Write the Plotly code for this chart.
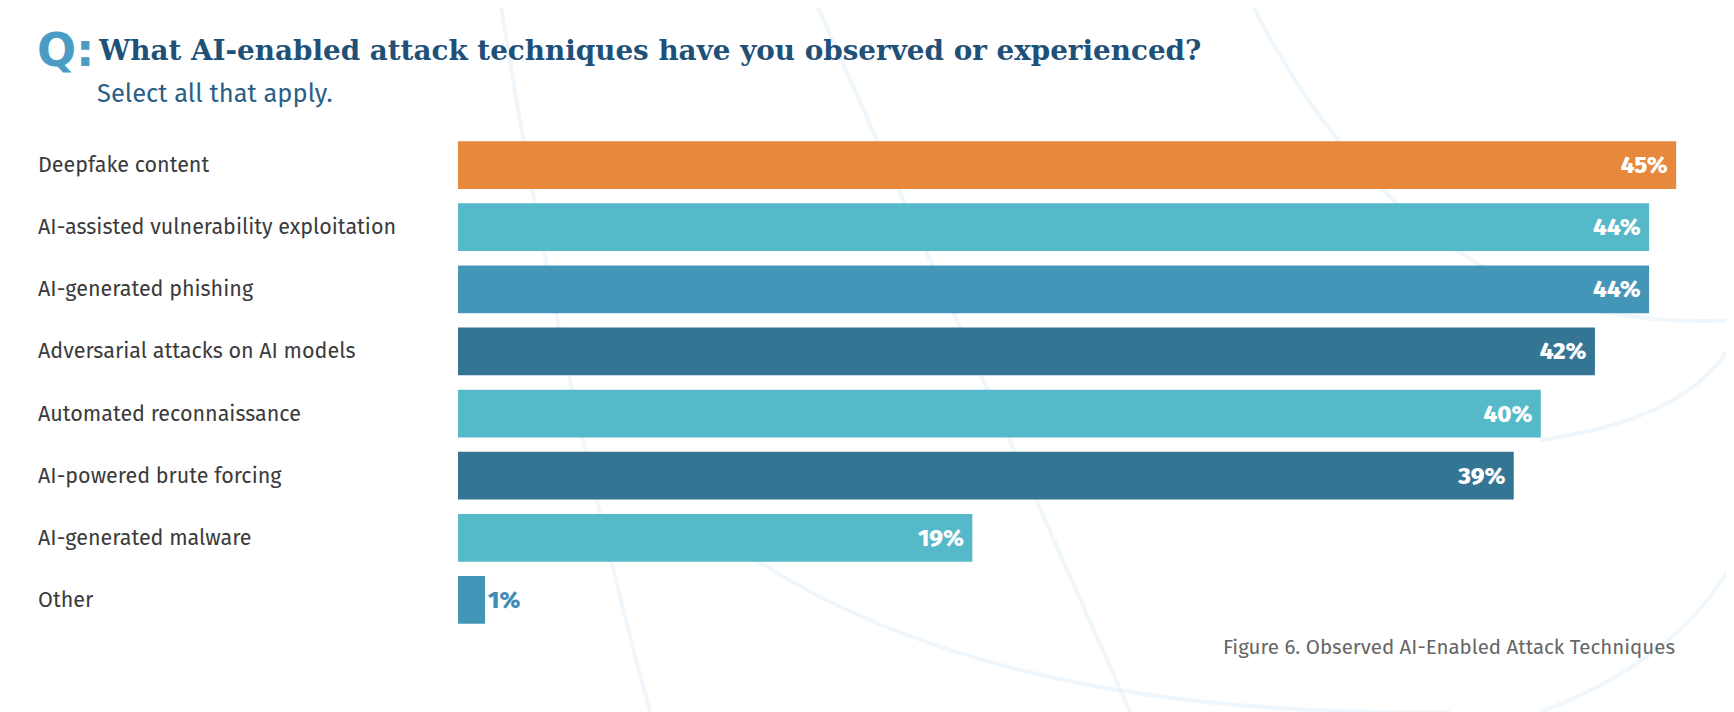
import plotly.graph_objects as go

categories = [
    "Deepfake content",
    "AI-assisted vulnerability exploitation",
    "AI-generated phishing",
    "Adversarial attacks on AI models",
    "Automated reconnaissance",
    "AI-powered brute forcing",
    "AI-generated malware",
    "Other",
]
values = [45, 44, 44, 42, 40, 39, 19, 1]
bar_colors = ["#E6893C", "#55B9C9", "#4496B8", "#357594",
              "#55B9C9", "#357594", "#55B9C9", "#4496B8"]

title_text = "What AI-enabled attack techniques have you observed or experienced?"
subtitle_text = "Select all that apply."
caption_text = "Figure 6. Observed AI-Enabled Attack Techniques"

# page body adds an 8px offset, so the figure is drawn 8px up/left of target
OFF = 8
W, H = 1734, 712
L, T = 458 - OFF, 134 - OFF
plot_w, plot_h = 1245, 497
R = W - L - plot_w
B = H - T - plot_h


def px_x(x):
    return (x - OFF - L) / plot_w


def px_y(y):
    return (T + plot_h - (y - OFF)) / plot_h


def arc_path(p0, c, p1):
    # quadratic curve given in screen pixels, converted to paper units
    pts = [(px_x(x), px_y(y)) for x, y in (p0, c, p1)]
    return "M {:.4f},{:.4f} Q {:.4f},{:.4f} {:.4f},{:.4f}".format(
        *pts[0], *pts[1], *pts[2])


sans = "Fira Sans, Roboto, sans-serif"

text_pos = ["inside" if v >= 5 else "outside" for v in values]
text_col = ["white" if v >= 5 else "#3F8DB6" for v in values]
labels = [f"{v}%\u00a0" if v >= 5 else f"{v}%" for v in values]

fig = go.Figure()
fig.add_trace(go.Bar(
    x=values,
    y=categories,
    orientation="h",
    marker=dict(color=bar_colors, line=dict(width=0)),
    width=0.77,
    text=labels,
    textposition=text_pos,
    insidetextanchor="end",
    textfont=dict(family=sans, size=24, color=text_col, weight=800),
    cliponaxis=False,
    hoverinfo="skip",
))

annotations = []
for cat in categories:
    annotations.append(dict(
        x=px_x(36), xref="paper", y=cat, yref="y",
        text=cat, showarrow=False, xanchor="left", yanchor="middle",
        font=dict(family=sans, size=21.5, color="#3B3B3B"),
    ))

annotations += [
    dict(x=px_x(35), y=px_y(50), xref="paper", yref="paper", text="<b>Q:</b>",
         showarrow=False, xanchor="left", yanchor="middle",
         font=dict(family="DejaVu Sans, sans-serif", size=46, color="#4A9CC5")),
    dict(x=px_x(96), y=px_y(51), xref="paper", yref="paper", text=f"<b>{title_text}</b>",
         showarrow=False, xanchor="left", yanchor="middle",
         font=dict(family="Roboto Slab, DejaVu Serif, serif", size=27.8, color="#1F5178")),
    dict(x=px_x(95), y=px_y(93), xref="paper", yref="paper", text=subtitle_text,
         showarrow=False, xanchor="left", yanchor="middle",
         font=dict(family=sans, size=25.5, color="#2A5F87")),
    dict(x=px_x(1677), y=px_y(647), xref="paper", yref="paper", text=caption_text,
         showarrow=False, xanchor="right", yanchor="middle",
         font=dict(family=sans, size=20.5, color="#666666")),
]

# faint decorative arcs in the background
arc = dict(color="rgba(218,235,247,0.4)", width=4)
shapes = [
    dict(type="path", xref="paper", yref="paper", layer="below", line=arc,
         path=arc_path((500, 0), (560, 380), (650, 712))),
    dict(type="path", xref="paper", yref="paper", layer="below", line=arc,
         path=arc_path((815, 0), (1000, 420), (1130, 712))),
    dict(type="path", xref="paper", yref="paper", layer="below", line=arc,
         path=arc_path((1250, 0), (1420, 340), (1734, 320))),
    dict(type="path", xref="paper", yref="paper", layer="below", line=arc,
         path=arc_path((1540, 440), (1690, 420), (1734, 340))),
    dict(type="path", xref="paper", yref="paper", layer="below", line=arc,
         path=arc_path((700, 520), (950, 720), (1450, 712))),
    dict(type="path", xref="paper", yref="paper", layer="below", line=arc,
         path=arc_path((1540, 712), (1680, 660), (1734, 560))),
]

fig.update_layout(
    width=W, height=H,
    margin=dict(l=L, r=R, t=T, b=B, pad=0),
    paper_bgcolor="white", plot_bgcolor="rgba(0,0,0,0)",
    showlegend=False,
    annotations=annotations,
    shapes=shapes,
    xaxis=dict(range=[0, plot_w / 27.07], visible=False, fixedrange=True),
    yaxis=dict(autorange="reversed", showticklabels=False, showgrid=False,
               zeroline=False, showline=False, ticks="", fixedrange=True),
)

fig.write_html("out.html")
